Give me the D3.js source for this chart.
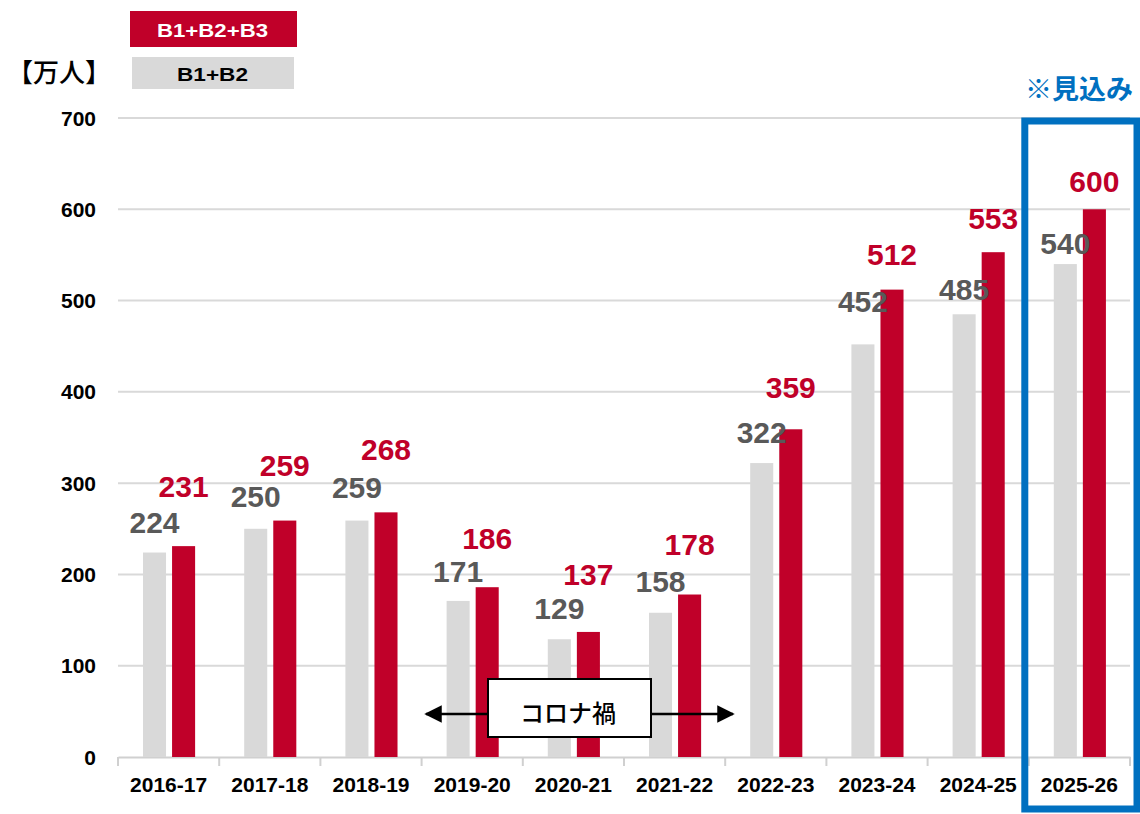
<!DOCTYPE html>
<html>
<head>
<meta charset="utf-8">
<script src="https://cdn.jsdelivr.net/npm/d3@7"></script>
<style>
  body { margin: 0; background: #fff; }
  svg { display: block; font-family: "Liberation Sans", Arial, sans-serif; }
  .jp { font-family: "Noto Sans CJK JP", sans-serif; }
</style>
</head>
<body>
<svg id="chart" width="1140" height="814"></svg>
<script>
// data
var years = ["2016-17", "2017-18", "2018-19", "2019-20", "2020-21", "2021-22", "2022-23", "2023-24", "2024-25", "2025-26"];
var b12 = [224, 250, 259, 171, 129, 158, 322, 452, 485, 540];
var b123 = [231, 259, 268, 186, 137, 178, 359, 512, 553, 600];
var yTicks = [0, 100, 200, 300, 400, 500, 600, 700];
var seriesNames = ["B1+B2", "B1+B2+B3"];
// how far each value label sits above its bar (px), as placed in the original
var liftGray = [20, 22, 23, 19, 20, 21, 20, 32, 14, 10];
var liftRed = [49, 45, 52, 38, 47, 40, 31, 25, 23, 17];

var RED = "#c00029", GRAY = "#d9d9d9", BLUE = "#0070c0";

const svg = d3.select("#chart");
const plotL = 118, plotR = 1130, plotT = 118, plotB = 757;

var x = d3.scaleBand().domain(years).range([plotL, plotR]);
var bw = x.bandwidth();
var x1 = d3.scaleBand().domain(seriesNames).range([bw * 0.247, bw * 0.762]).paddingInner(0.207);
var y = d3.scaleLinear().domain([0, 700]).range([plotB, plotT]);

// gridlines
svg.append("g").selectAll("line")
    .data(yTicks.filter(d => d > 0))
    .enter().append("line")
    .attr("x1", plotL).attr("x2", plotR)
    .attr("y1", d => y(d)).attr("y2", d => y(d))
    .attr("stroke", "#d9d9d9").attr("stroke-width", 2);

// y labels
svg.append("g").selectAll("text")
    .data(yTicks)
    .enter().append("text")
    .attr("x", 96).attr("y", d => y(d) + 7.5)
    .attr("text-anchor", "end")
    .attr("font-size", 21).attr("font-weight", "bold")
    .attr("fill", "#000")
    .text(d => d);

// x axis
var xAxis = svg.append("g").attr("transform", "translate(0," + plotB + ")")
    .call(d3.axisBottom(x).tickSize(0).tickSizeOuter(0).tickPadding(20));
xAxis.select(".domain").attr("stroke", "#d0d0d0").attr("stroke-width", 2);
xAxis.selectAll("text")
    .attr("font-size", 21).attr("font-weight", "bold")
    .attr("font-family", "Liberation Sans, Arial, sans-serif")
    .attr("fill", "#000");
svg.append("g").selectAll("line")
    .data(years.concat(["end"]))
    .enter().append("line")
    .attr("x1", (d, i) => plotL + i * bw).attr("x2", (d, i) => plotL + i * bw)
    .attr("y1", plotB).attr("y2", plotB + 9)
    .attr("stroke", "#d0d0d0").attr("stroke-width", 2);

// bars
var groups = svg.append("g").selectAll("g")
    .data(years)
    .enter().append("g")
    .attr("transform", d => "translate(" + x(d) + ",0)");

groups.append("rect")
    .attr("x", x1("B1+B2"))
    .attr("width", x1.bandwidth())
    .attr("y", (d, i) => y(b12[i]))
    .attr("height", (d, i) => plotB - y(b12[i]))
    .attr("fill", GRAY);

groups.append("rect")
    .attr("x", x1("B1+B2+B3"))
    .attr("width", x1.bandwidth())
    .attr("y", (d, i) => y(b123[i]))
    .attr("height", (d, i) => plotB - y(b123[i]))
    .attr("fill", RED);

groups.append("text")
    .attr("x", x1("B1+B2") + x1.bandwidth() / 2)
    .attr("y", (d, i) => y(b12[i]) - liftGray[i])
    .attr("text-anchor", "middle")
    .attr("font-size", 30)
    .attr("fill", "#595959")
    .attr("font-weight", "bold")
    .text((d, i) => b12[i]);

groups.append("text")
    .attr("x", x1("B1+B2+B3") + x1.bandwidth() / 2)
    .attr("y", (d, i) => y(b123[i]) - liftRed[i])
    .attr("text-anchor", "middle")
    .attr("font-size", 30)
    .attr("fill", RED)
    .attr("font-weight", "bold")
    .text((d, i) => b123[i]);

// unit label
svg.append("text").attr("class", "jp")
    .attr("x", 7).attr("y", 82)
    .attr("font-size", 26).attr("font-weight", 500).attr("fill", "#000")
    .text("【万人】");

// legend
svg.append("rect").attr("x", 130).attr("y", 11).attr("width", 167).attr("height", 36).attr("fill", RED);
svg.append("text").attr("x", 157).attr("y", 37)
    .attr("textLength", 111).attr("lengthAdjust", "spacingAndGlyphs")
    .attr("font-size", 17.5).attr("font-weight", "bold").attr("fill", "#fff").text(seriesNames[1]);
svg.append("rect").attr("x", 132).attr("y", 57).attr("width", 162).attr("height", 32).attr("fill", GRAY);
svg.append("text").attr("x", 177).attr("y", 81)
    .attr("textLength", 71).attr("lengthAdjust", "spacingAndGlyphs")
    .attr("font-size", 17.5).attr("font-weight", "bold").attr("fill", "#000").text(seriesNames[0]);

// forecast box
var lastX = x(years[years.length - 1]);
svg.append("rect")
    .attr("x", lastX - 4).attr("y", 121)
    .attr("width", bw + 11).attr("height", 688)
    .attr("fill", "none").attr("stroke", BLUE).attr("stroke-width", 7);
svg.append("text").attr("class", "jp")
    .attr("x", 1079).attr("y", 99)
    .attr("text-anchor", "middle")
    .attr("font-size", 27).attr("font-weight", "bold").attr("fill", BLUE)
    .text("※見込み");

// corona annotation
var defs = svg.append("defs");
defs.append("marker").attr("id", "arr")
    .attr("viewBox", "0 0 10 10").attr("refX", 9).attr("refY", 5)
    .attr("markerWidth", 8).attr("markerHeight", 7).attr("markerUnits", "strokeWidth")
    .attr("orient", "auto-start-reverse")
    .append("path").attr("d", "M0,0 L10,5 L0,10 z").attr("fill", "#000");

var cy = 714;
svg.append("line").attr("x1", 426).attr("x2", 488).attr("y1", cy).attr("y2", cy)
    .attr("stroke", "#000").attr("stroke-width", 2.5).attr("marker-start", "url(#arr)");
svg.append("line").attr("x1", 651).attr("x2", 733).attr("y1", cy).attr("y2", cy)
    .attr("stroke", "#000").attr("stroke-width", 2.5).attr("marker-end", "url(#arr)");
svg.append("rect").attr("x", 488).attr("y", 679).attr("width", 163).attr("height", 58)
    .attr("fill", "#fff").attr("stroke", "#000").attr("stroke-width", 2);
svg.append("text").attr("class", "jp")
    .attr("x", 568).attr("y", 722).attr("text-anchor", "middle")
    .attr("font-size", 24).attr("font-weight", 500).attr("fill", "#000")
    .text("コロナ禍");
</script>
</body>
</html>
